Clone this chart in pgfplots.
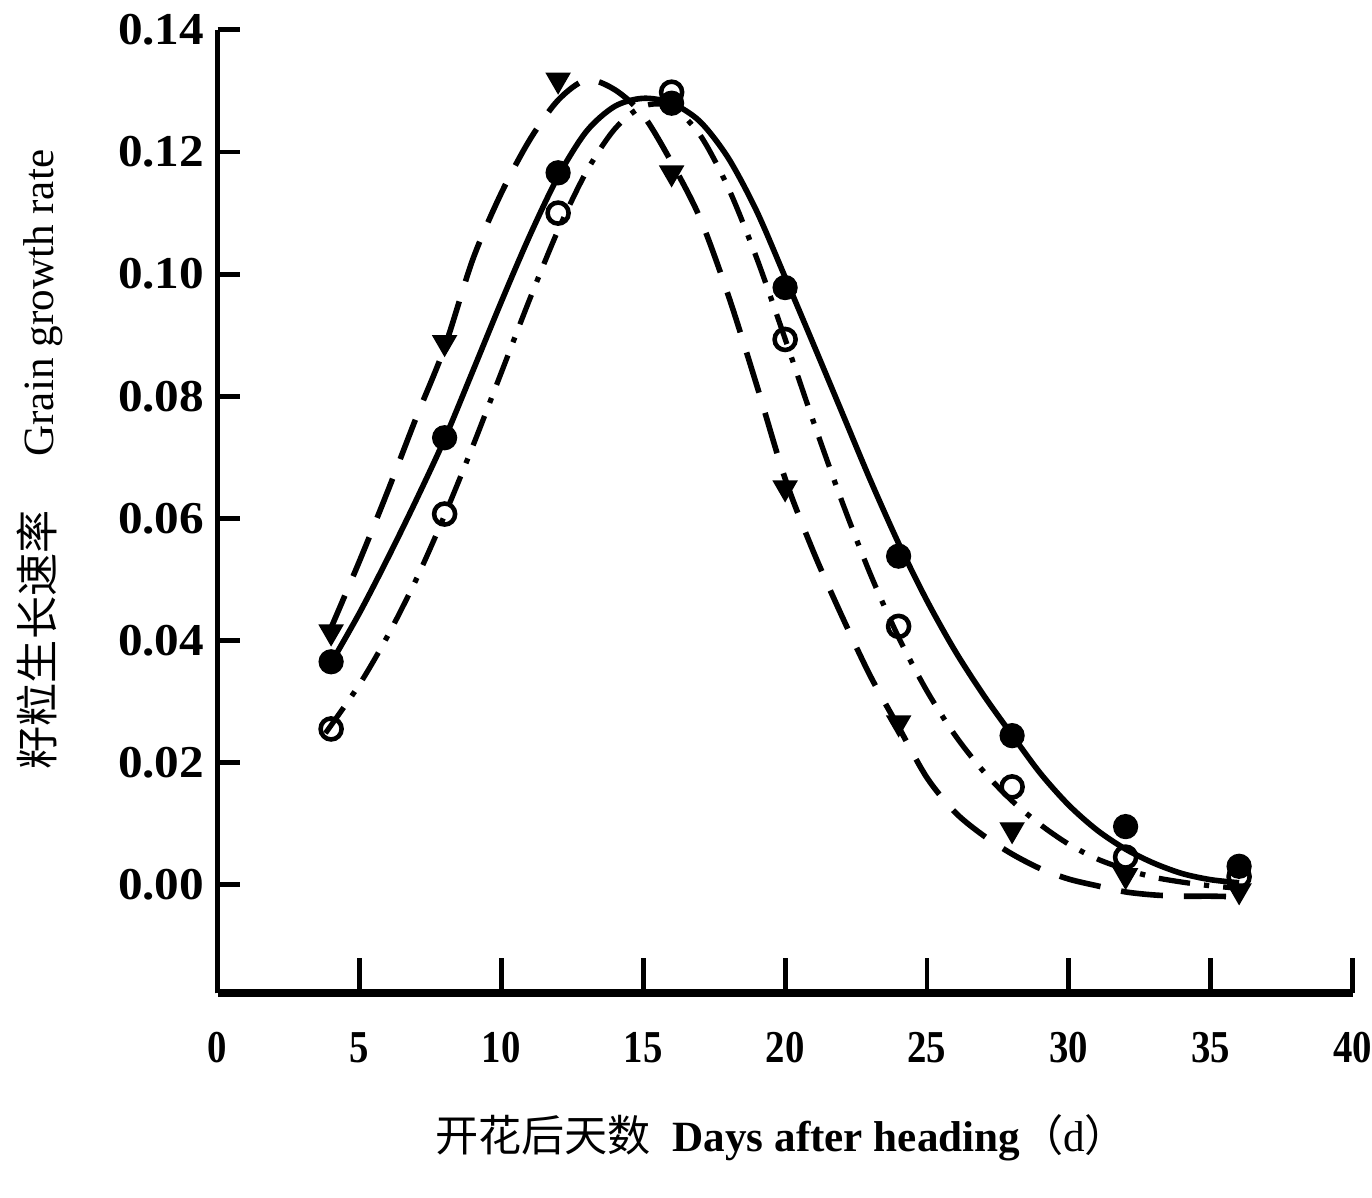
\documentclass[border=0pt]{standalone}
\usepackage{pgfplots}
\pgfplotsset{compat=1.18}
\usepackage{fontspec}
\setmainfont{Liberation Serif}
\newfontfamily\cjk{Noto Sans CJK SC}

% fitted curves
\pgfplotstableread{
x y
3.9 0.0355
5 0.0445
6 0.0535
7 0.0630
8 0.0730
9 0.0842
10 0.0955
11 0.1063
12 0.1160
13 0.1234
14 0.1275
15 0.1288
16 0.1280
17 0.1250
18 0.1190
19 0.1103
20 0.0995
21 0.0885
22 0.0774
23 0.0663
24 0.0559
25 0.0465
26 0.0382
27 0.0310
28 0.0245
29 0.0182
30 0.0130
31 0.0089
32 0.0058
33 0.0035
34 0.0018
35 0.0008
36 0.0003
}\solidfit

\pgfplotstableread{
x y
3.9 0.0410
5 0.0530
6 0.0645
7 0.0765
8 0.0880
9 0.1025
10 0.1133
11 0.1220
12 0.1285
13 0.1318
14 0.1302
15 0.1260
16 0.1183
17 0.1092
18 0.0965
19 0.0818
20 0.0665
21 0.0545
22 0.0440
23 0.0342
24 0.0258
25 0.0175
26 0.0118
27 0.0080
28 0.0050
29 0.0026
30 0.0009
31 -0.0002
32 -0.0012
33 -0.0017
34 -0.0019
35 -0.0019
36 -0.0020
}\dashfit

\pgfplotstableread{
x y
3.8 0.0248
5 0.0328
6 0.0408
7 0.0500
8 0.0605
9 0.0719
10 0.0839
11 0.0959
12 0.1072
13 0.1168
14 0.1238
15 0.1275
16 0.1274
17 0.1228
18 0.1141
19 0.1026
20 0.0894
21 0.0758
22 0.0628
23 0.0509
24 0.0405
25 0.0317
26 0.0244
27 0.0185
28 0.0137
29 0.0098
30 0.0066
31 0.0042
32 0.0025
33 0.0012
34 0.0004
35 -0.0002
36 -0.0006
}\dashdotfit

\begin{document}
\begin{tikzpicture}
\begin{axis}[
    name=ax,
    width=11.37cm, height=9.65cm, scale only axis,
    xmin=0, xmax=40, ymin=-0.0178, ymax=0.14,
    axis lines*=left,
    x axis line style={line width=2.4pt},
    y axis line style={line width=1.5pt},
    xtick={0,5,10,15,20,25,30,35,40},
    ytick={0,0.02,0.04,0.06,0.08,0.1,0.12,0.14},
    scaled y ticks=false,
    tick align=inside,
    major tick length=0.22cm,
    x tick style={/pgfplots/major tick length=0.35cm},
    tick style={line width=1.4pt, black},
    yticklabel style={/pgf/number format/fixed, /pgf/number format/fixed zerofill, /pgf/number format/precision=2},
    /pgf/number format/assume math mode=true,
    yticklabel style={font=\bfseries\fontsize{13}{15}\selectfont, xscale=1.08},
    xticklabel style={font=\bfseries\fontsize{13}{15}\selectfont, xscale=0.85, yshift=-0.27cm, inner xsep=0pt},
    label style={font=\fontsize{12.3}{14}\selectfont},
    xlabel={{\cjk 开花后天数}\ \ \textbf{Days after heading}{\cjk （}d{\cjk ）}},
    ylabel={{\cjk 籽粒生长速率}\quad\ Grain growth rate},
    xlabel style={at={(axis description cs:0.497,-0.150)}, anchor=center, inner sep=0pt},
    ylabel style={at={(axis description cs:-0.1566,0.554)}, anchor=center, inner sep=0pt},
    clip=false,
]
% curves
\addplot[black, line width=1.6pt, smooth] table {\solidfit};
\addplot[black, line width=1.6pt, smooth, dash pattern=on 12pt off 6pt] table {\dashfit};
\addplot[black, line width=1.5pt, smooth, dash pattern=on 9pt off 4pt on 1.5pt off 4pt] table {\dashdotfit};
% observed points
\addplot[only marks, mark=*, mark size=3.4pt, black] coordinates {
    (4,0.0365) (8,0.0732) (12,0.1166) (16,0.1280) (20,0.0978)
    (24,0.0538) (28,0.0244) (32,0.0095) (36,0.0030)
};
\addplot[only marks, mark=triangle*, mark size=3.8pt, black, mark options={rotate=180}] coordinates {
    (4,0.0414) (8,0.0888) (12,0.1318) (16,0.1166) (20,0.0650)
    (24,0.0265) (28,0.0090) (32,0.0015) (36,-0.0010)
};
\addplot[only marks, mark=o, mark size=3.0pt, black, mark options={line width=1.3pt, fill=white}] coordinates {
    (4,0.0255) (8,0.0607) (12,0.1100) (16,0.1298) (20,0.0893)
    (24,0.0423) (28,0.0160) (32,0.0045) (36,0.0013)
};
\end{axis}
% page extent of the reference figure around the axis box
\path ([shift={(-2.18cm,-2.05cm)}]ax.south west) rectangle ([shift={(0.17cm,0.3cm)}]ax.north east);
\end{tikzpicture}
\end{document}
